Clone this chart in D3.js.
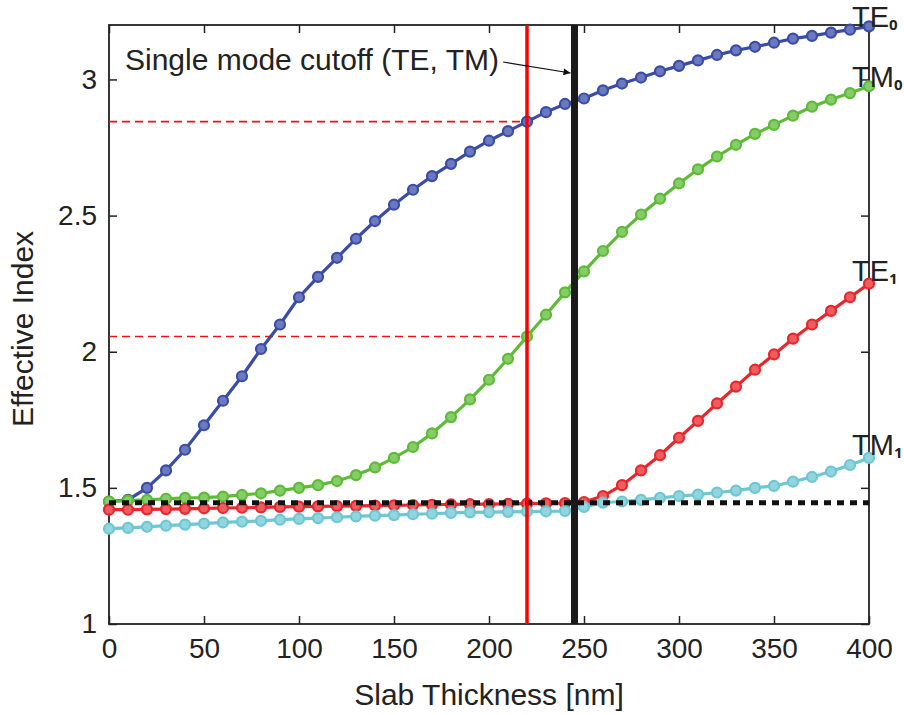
<!DOCTYPE html>
<html lang="en">
<head>
<meta charset="UTF-8">
<script src="https://d3js.org/d3.v7.min.js"></script>
<style>
    body { margin: 0; background: white; }
    text { font-family: "Liberation Sans", Arial, Helvetica, sans-serif; fill: #222; }
</style>
</head>
<body>
<div id="chart"></div>
<script>
    // slab thickness in nm, one point every 10 nm
    var thickness = [0,10,20,30,40,50,60,70,80,90,100,110,120,130,140,150,160,170,180,190,200,
        210,220,230,240,250,260,270,280,290,300,310,320,330,340,350,360,370,380,390,400];

    var te0 = [1.45,1.456,1.50,1.564,1.64,1.73,1.82,1.91,2.01,2.10,2.20,2.275,2.345,2.415,2.48,2.54,2.595,2.645,2.69,2.735,2.775,
        2.81,2.845,2.88,2.91,2.93,2.96,2.985,3.007,3.03,3.05,3.07,3.09,3.107,3.12,3.135,3.15,3.16,3.172,3.183,3.195];
    var tm0 = [1.45,1.453,1.456,1.46,1.463,1.464,1.468,1.474,1.48,1.49,1.50,1.51,1.525,1.547,1.575,1.61,1.65,1.70,1.76,1.825,1.897,
        1.974,2.056,2.136,2.218,2.295,2.37,2.44,2.504,2.562,2.618,2.67,2.717,2.76,2.80,2.833,2.867,2.90,2.926,2.95,2.975];
    var te1 = [1.42,1.42,1.421,1.422,1.423,1.425,1.426,1.427,1.428,1.43,1.431,1.432,1.433,1.434,1.435,1.436,1.437,1.438,1.439,1.44,1.44,
        1.441,1.442,1.443,1.444,1.448,1.47,1.51,1.564,1.62,1.684,1.746,1.81,1.872,1.934,1.99,2.048,2.10,2.15,2.20,2.25];
    var tm1 = [1.35,1.353,1.357,1.361,1.365,1.369,1.373,1.376,1.379,1.383,1.386,1.389,1.392,1.395,1.398,1.40,1.403,1.405,1.408,1.41,1.411,
        1.412,1.413,1.414,1.415,1.43,1.446,1.45,1.456,1.463,1.47,1.475,1.483,1.49,1.50,1.507,1.523,1.54,1.56,1.584,1.61];

    var seriesNames = ["TE", "TM", "TE", "TM"];
    var seriesSubs = ["0", "0", "1", "1"];
    var seriesColors = ["#3a4ca8", "#5dbb36", "#e8262b", "#6dc7d3"];
    var seriesValues = [te0, tm0, te1, tm1];

    var xTicks = [0,50,100,150,200,250,300,350,400];
    var yTicks = [1,1.5,2,2.5,3];

    var substrateIndex = 1.445;   // black dotted line
    var cutoffThickness = 245;    // single mode cutoff
    var chosenThickness = 220;    // red line
    var chosenIndex = [2.845, 2.056];

    var canvasWidth = 904, canvasHeight = 715;
    var plotLeft = 109, plotRight = 869, plotTop = 25, plotBottom = 624;

    var svg = d3.select("#chart").append("svg")
        .attr("width", canvasWidth)
        .attr("height", canvasHeight);

    var xScale = d3.scaleLinear().domain([0, 400]).range([plotLeft, plotRight]);
    var yScale = d3.scaleLinear().domain([1, 3.2]).range([plotBottom, plotTop]);

    svg.append("defs").append("marker")
        .attr("id", "arrow")
        .attr("viewBox", "0 0 10 10")
        .attr("refX", 10).attr("refY", 5)
        .attr("markerWidth", 9).attr("markerHeight", 7)
        .attr("markerUnits", "userSpaceOnUse")
        .attr("orient", "auto")
        .append("path").attr("d", "M0,0 L10,5 L0,10 z").attr("fill", "#111");

    // axes, ticks pointing inward
    var tickLen = 8;
    svg.append("g")
        .attr("transform", "translate(0," + plotBottom + ")")
        .call(d3.axisBottom(xScale).tickValues(xTicks).tickSize(-tickLen).tickPadding(14))
        .call(function(g) { g.select(".domain").remove(); });
    svg.append("g")
        .attr("transform", "translate(0," + plotTop + ")")
        .call(d3.axisTop(xScale).tickValues(xTicks).tickSize(-tickLen).tickFormat(""))
        .call(function(g) { g.select(".domain").remove(); });
    svg.append("g")
        .attr("transform", "translate(" + plotLeft + ",0)")
        .call(d3.axisLeft(yScale).tickValues(yTicks).tickSize(-tickLen).tickPadding(12).tickFormat(d3.format("")))
        .call(function(g) { g.select(".domain").remove(); });
    svg.append("g")
        .attr("transform", "translate(" + plotRight + ",0)")
        .call(d3.axisRight(yScale).tickValues(yTicks).tickSize(-tickLen).tickFormat(""))
        .call(function(g) { g.select(".domain").remove(); });

    svg.selectAll(".tick line").attr("stroke", "#222").attr("stroke-width", 1.5);
    svg.selectAll(".tick text")
        .attr("font-family", "'Liberation Sans', Arial, sans-serif")
        .attr("font-size", 28)
        .attr("fill", "#222");

    svg.append("rect")
        .attr("x", plotLeft).attr("y", plotTop)
        .attr("width", plotRight - plotLeft).attr("height", plotBottom - plotTop)
        .attr("fill", "none").attr("stroke", "#222").attr("stroke-width", 1.8);

    // red dashed guides
    chosenIndex.forEach(function(v) {
        svg.append("line")
            .attr("x1", xScale(0)).attr("x2", xScale(chosenThickness))
            .attr("y1", yScale(v)).attr("y2", yScale(v))
            .attr("stroke", "#ee1111").attr("stroke-width", 1.6)
            .attr("stroke-dasharray", "8,5");
    });

    // mode curves
    var line = d3.line()
        .x(function(d, i) { return xScale(thickness[i]); })
        .y(function(d) { return yScale(d); });

    seriesValues.forEach(function(vals, k) {
        var c = seriesColors[k];
        svg.append("path")
            .datum(vals)
            .attr("d", line)
            .attr("fill", "none")
            .attr("stroke", c)
            .attr("stroke-width", 3.2);
        svg.selectAll(".pt" + k).data(vals).enter().append("circle")
            .attr("class", "pt" + k)
            .attr("cx", function(d, i) { return xScale(thickness[i]); })
            .attr("cy", function(d) { return yScale(d); })
            .attr("r", 5)
            .attr("fill", d3.interpolateRgb(c, "white")(0.25))
            .attr("stroke", c)
            .attr("stroke-width", 2.2);
    });

    // cladding index line
    svg.append("line")
        .attr("x1", xScale(0)).attr("x2", xScale(400))
        .attr("y1", yScale(substrateIndex)).attr("y2", yScale(substrateIndex))
        .attr("stroke", "#111").attr("stroke-width", 5)
        .attr("stroke-dasharray", "7,6");

    // vertical markers
    svg.append("line")
        .attr("x1", xScale(chosenThickness)).attr("x2", xScale(chosenThickness))
        .attr("y1", plotTop).attr("y2", plotBottom)
        .attr("stroke", "#ff0000").attr("stroke-width", 3.5);
    svg.append("line")
        .attr("x1", xScale(cutoffThickness)).attr("x2", xScale(cutoffThickness))
        .attr("y1", plotTop).attr("y2", plotBottom)
        .attr("stroke", "#1a1a1a").attr("stroke-width", 7);

    // annotation
    svg.append("text")
        .attr("x", 125).attr("y", 70)
        .attr("font-size", 30)
        .text("Single mode cutoff (TE, TM)");
    svg.append("line")
        .attr("x1", 503).attr("y1", 62)
        .attr("x2", xScale(cutoffThickness) - 4).attr("y2", 73)
        .attr("stroke", "#111").attr("stroke-width", 1.2)
        .attr("marker-end", "url(#arrow)");

    // mode labels at the end of each curve
    var labelShift = [1, 1, -3, -3];
    seriesValues.forEach(function(vals, k) {
        var t = svg.append("text")
            .attr("x", xScale(400) - 17)
            .attr("y", yScale(vals[vals.length - 1]) + labelShift[k])
            .attr("font-size", 29);
        t.append("tspan").text(seriesNames[k]);
        t.append("tspan")
            .attr("font-family", "'Open Sans', 'DejaVu Sans', sans-serif")
            .attr("font-weight", "bold")
            .attr("font-size", 15)
            .attr("dy", 3)
            .text(seriesSubs[k]);
    });

    // axis titles
    svg.append("text")
        .attr("x", 489).attr("y", 705)
        .attr("text-anchor", "middle")
        .attr("font-size", 30)
        .text("Slab Thickness [nm]");
    svg.append("text")
        .attr("transform", "translate(33," + 329 + ") rotate(-90)")
        .attr("text-anchor", "middle")
        .attr("font-size", 30)
        .text("Effective Index");
</script>
</body>
</html>
